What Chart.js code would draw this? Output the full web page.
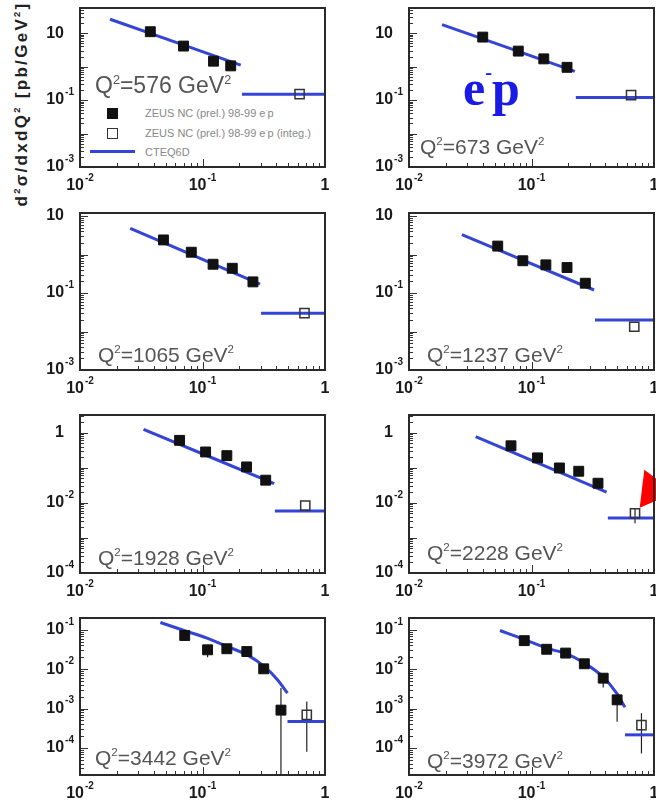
<!DOCTYPE html>
<html lang="en">
<head>
  <meta charset="UTF-8">
  <title>ZEUS NC e-p cross sections at high x</title>
  <script src="https://cdn.jsdelivr.net/npm/chart.js@4.4.1/dist/chart.umd.min.js"></script>
  <style>
    html, body { margin: 0; padding: 0; background: #fff; }
    body {
      position: relative;
      width: 656px;
      height: 807px;
      overflow: hidden;
      font-family: 'Liberation Sans', Arial, sans-serif;
    }
    canvas.panel { position: absolute; }
    .q2 {
      position: absolute;
      color: #555;
      line-height: 1;
      white-space: nowrap;
    }
    .q2 sup, .ytitle sup, .lg-text sup, .ep sup {
      font-size: 0.55em;
      vertical-align: baseline;
      position: relative;
      top: -0.75em;
    }
    .ytitle {
      position: absolute;
      left: 22px;
      top: 104px;
      transform: translate(-50%, -50%) rotate(-90deg);
      font-weight: bold;
      font-size: 17px;
      letter-spacing: 2.3px;
      color: #222;
      white-space: nowrap;
    }
    .ep {
      position: absolute;
      left: 463px;
      top: 63px;
      font-family: 'Liberation Serif', 'Times New Roman', serif;
      font-weight: bold;
      font-size: 50px;
      line-height: 1;
      color: #1a1ae6;
    }
    .ep sup { font-size: 0.4em; top: -1.3em; }
    .lg-mark { position: absolute; box-sizing: border-box; }
    .lg-text {
      position: absolute;
      font-size: 11px;
      line-height: 1;
      color: #888;
      white-space: nowrap;
    }
  </style>
</head>
<body>
  <div class="ytitle">d<sup>2</sup>σ/dxdQ<sup>2</sup> [pb/GeV<sup>2</sup>]</div>
  <div class="ep">e<sup>-</sup>p</div>

  <!-- legend of the first panel -->
  <div class="lg-mark" style="left:107px; top:108px; width:11px; height:11px; background:#111;"></div>
  <div class="lg-text" style="left:145px; top:108px;">ZEUS NC (prel.) 98-99 e<sup>-</sup>p</div>
  <div class="lg-mark" style="left:107px; top:128px; width:11px; height:11px; border:1.5px solid #333;"></div>
  <div class="lg-text" style="left:145px; top:128px;">ZEUS NC (prel.) 98-99 e<sup>-</sup>p (integ.)</div>
  <div class="lg-mark" style="left:90px; top:150px; width:45px; height:3px; background:#3445d6;"></div>
  <div class="lg-text" style="left:145px; top:147px;">CTEQ6D</div>

  <script>
    // Q^2 of each bin, left to right, top to bottom
    const q2Values = [576, 673, 1065, 1237, 1928, 2228, 3442, 3972];

    // measured points (filled squares)
    const dataX = [
      [0.0375, 0.070, 0.123, 0.17],
      [0.040, 0.078, 0.126, 0.195],
      [0.048, 0.081, 0.122, 0.175, 0.258],
      [0.053, 0.085, 0.131, 0.195, 0.275],
      [0.065, 0.106, 0.158, 0.229, 0.328],
      [0.068, 0.112, 0.169, 0.243, 0.349],
      [0.0716, 0.11, 0.158, 0.23, 0.316, 0.437],
      [0.0873, 0.133, 0.19, 0.27, 0.385, 0.5]
    ];
    const dataSigma = [
      [11, 4.1, 1.45, 1.05],
      [7.6, 2.9, 1.7, 0.95],
      [2.4, 1.15, 0.56, 0.44, 0.195],
      [1.66, 0.69, 0.54, 0.46, 0.18],
      [0.6, 0.28, 0.22, 0.105, 0.044],
      [0.42, 0.19, 0.098, 0.079, 0.036],
      [0.0716, 0.031, 0.033, 0.028, 0.0102, 0.00091],
      [0.053, 0.032, 0.0256, 0.0137, 0.0059, 0.00166]
    ];
    // [x, low, high] where an error bar sticks out of the marker
    const dataErrors = [
      [], [], [], [], [], [],
      [[0.11, 0.020, 0.042], [0.437, 1e-6, 0.0033]],
      [[0.385, 0.0034, 0.0071], [0.5, 0.00046, 0.0025]]
    ];

    // integrated bin up to x = 1 (open squares)
    const integX = [0.62, 0.65, 0.68, 0.69, 0.69, 0.70, 0.71, 0.79];
    const integSigma = [0.15, 0.14, 0.03, 0.0133, 0.0083, 0.005, 0.00069, 0.00038];
    const integErrors = [null, null, null, null, null, [0.0026, 0.0071], [0.00008, 0.0015], [0.000072, 0.00076]];

    // CTEQ6D prediction
    const cteqX = [
      [0.0176, 0.205],
      [0.0186, 0.226],
      [0.0257, 0.295],
      [0.027, 0.324],
      [0.033, 0.385],
      [0.035, 0.41],
      [0.0453, 0.0748, 0.109, 0.158, 0.232, 0.318, 0.409, 0.494],
      [0.0553, 0.0857, 0.133, 0.194, 0.265, 0.385, 0.495, 0.58]
    ];
    const cteqSigma = [
      [26, 1.1],
      [18, 0.72],
      [4.8, 0.17],
      [3.3, 0.12],
      [1.24, 0.035],
      [0.76, 0.02],
      [0.153, 0.0906, 0.0616, 0.038, 0.023, 0.0117, 0.0054, 0.00245],
      [0.096, 0.058, 0.034, 0.0245, 0.0148, 0.0063, 0.00245, 0.00107]
    ];
    // CTEQ6D for the integrated bin: flat from x0 to 1
    const cteqIntegFrom = [0.21, 0.23, 0.30, 0.33, 0.39, 0.42, 0.494, 0.58];
    const cteqIntegSigma = [0.15, 0.12, 0.03, 0.02, 0.0058, 0.0037, 0.00047, 0.000214];

    // axes: log10 limits of the y range and labelled decades
    const yLogRange = [[-3, 1.75], [-3, 1.75], [-3, 1.08], [-3, 1.08], [-4, 0.5], [-4, 0.5], [-4.69, -0.7], [-4.69, -0.7]];
    const yLabelExps = [[-3, -1, 1], [-3, -1, 1], [-3, -1, 1], [-3, -1, 1], [-4, -2, 0], [-4, -2, 0], [-4, -3, -2, -1], [-4, -3, -2, -1]];
    const xLabelExps = [-2, -1, 0];

    // red marker pointing at the Q2=2228 integrated point
    const arrowPanel = 5;
    const arrowX = 0.98;
    const arrowY = 0.023;

    const BLUE = '#3445d6';
    const FONT = '"Liberation Sans", Arial, sans-serif';

    // page layout; the right column runs into the page edge
    const colLeft = [0, 329];
    const colWidth = [340, 327];
    const colPadRight = [15, 2];
    const rowTop = [0, 200, 400, 600];
    const rowHeight = [200, 200, 200, 207];
    const rowPadTop = [8, 13, 15, 18];
    const rowPadBottom = [33, 30, 27, 32];
    const q2Pos = [[95, 94, 23], [420, 154, 21], [98, 362, 21], [427, 362, 21],
                   [98, 565, 21], [427, 560, 21], [95, 765, 21], [427, 768, 21]];

    function powLabel(ctx, e, x, y, align) {
      const base = e === 0 ? '1' : '10';
      const exp = (e === 0 || e === 1) ? '' : String(e);
      ctx.font = 'bold 16px ' + FONT;
      const wb = ctx.measureText(base).width;
      ctx.font = 'bold 10px ' + FONT;
      const we = exp ? ctx.measureText(exp).width + 1 : 0;
      let x0;
      if (align === 'right') x0 = x - wb - we - (exp ? 0 : 10);
      else x0 = x - (wb + we) / 2;
      ctx.textAlign = 'left';
      ctx.textBaseline = 'middle';
      ctx.font = 'bold 16px ' + FONT;
      ctx.fillText(base, x0, y);
      if (exp) {
        ctx.font = 'bold 10px ' + FONT;
        ctx.fillText(exp, x0 + wb + 1, y - 8);
      }
    }

    // frame, inward ticks and power-of-ten labels, ROOT style
    const rootFrame = {
      id: 'rootFrame',
      afterDraw(chart, args, opts) {
        const { ctx, chartArea: a, scales: { x, y } } = chart;
        const [lo, hi] = opts.yRange;
        ctx.save();
        ctx.strokeStyle = '#333';
        ctx.lineWidth = 1;
        ctx.beginPath();
        for (let e = Math.floor(lo); e <= Math.ceil(hi); e++) {
          for (let m = 1; m < 10; m++) {
            const v = m * Math.pow(10, e);
            if (Math.log10(v) < lo || Math.log10(v) > hi) continue;
            const py = Math.round(y.getPixelForValue(v)) + 0.5;
            const len = m === 1 ? 8 : 4;
            ctx.moveTo(a.left, py);
            ctx.lineTo(a.left + len, py);
          }
        }
        for (let e = -2; e < 0; e++) {
          for (let m = 1; m < 10; m++) {
            const v = m * Math.pow(10, e);
            const px = Math.round(x.getPixelForValue(v)) + 0.5;
            const len = m === 1 ? 8 : 4;
            ctx.moveTo(px, a.bottom);
            ctx.lineTo(px, a.bottom - len);
          }
        }
        ctx.stroke();

        ctx.lineWidth = 2;
        ctx.strokeStyle = '#2a2a2a';
        ctx.strokeRect(a.left, a.top, a.right - a.left, a.bottom - a.top);

        ctx.fillStyle = '#1a1a1a';
        opts.yLabels.forEach(e => {
          powLabel(ctx, e, a.left - 6, y.getPixelForValue(Math.pow(10, e)), 'right');
        });
        xLabelExps.forEach(e => {
          powLabel(ctx, e, x.getPixelForValue(Math.pow(10, e)), a.bottom + 19, 'center');
        });
        ctx.restore();
      }
    };

    function makePanel(i) {
      const row = Math.floor(i / 2);
      const col = i % 2;
      const canvas = document.createElement('canvas');
      canvas.className = 'panel';
      canvas.width = colWidth[col];
      canvas.height = rowHeight[row];
      canvas.style.left = colLeft[col] + 'px';
      canvas.style.top = rowTop[row] + 'px';
      document.body.appendChild(canvas);

      const datasets = [];
      datasets.push({
        data: dataX[i].map((x, k) => ({ x, y: dataSigma[i][k] })),
        pointStyle: 'rect', pointRadius: 7,
        backgroundColor: '#111', borderColor: '#111', borderWidth: 1,
        order: 0
      });
      datasets.push({
        data: [{ x: integX[i], y: integSigma[i] }],
        pointStyle: 'rect', pointRadius: 6.5,
        backgroundColor: 'rgba(255,255,255,0)', borderColor: '#333', borderWidth: 1.5,
        order: 0
      });
      datasets.push({
        data: cteqX[i].map((x, k) => ({ x, y: cteqSigma[i][k] })),
        showLine: true, tension: 0.4, cubicInterpolationMode: 'monotone',
        borderColor: BLUE, borderWidth: 3, pointRadius: 0,
        order: 1
      });
      datasets.push({
        data: [{ x: cteqIntegFrom[i], y: cteqIntegSigma[i] }, { x: 1, y: cteqIntegSigma[i] }],
        showLine: true, borderColor: BLUE, borderWidth: 3, pointRadius: 0,
        order: 1
      });
      const bars = dataErrors[i].slice();
      if (integErrors[i]) bars.push([integX[i], integErrors[i][0], integErrors[i][1]]);
      bars.forEach(([x, l, h]) => {
        datasets.push({
          data: [{ x, y: l }, { x, y: h }],
          showLine: true, borderColor: '#222', borderWidth: 1.2, pointRadius: 0,
          order: 2
        });
      });
      if (i === arrowPanel) {
        datasets.push({
          data: [{ x: arrowX, y: arrowY }],
          pointStyle: 'triangle', pointRadius: 22, rotation: 217,
          backgroundColor: '#ff0000', borderColor: '#ff0000', borderWidth: 0,
          clip: false, order: -1
        });
      }

      const [lo, hi] = yLogRange[i];
      new Chart(canvas.getContext('2d'), {
        type: 'scatter',
        data: { datasets },
        options: {
          responsive: false,
          animation: false,
          events: [],
          layout: {
            autoPadding: false,
            padding: { left: 80, right: colPadRight[col], top: rowPadTop[row], bottom: rowPadBottom[row] }
          },
          scales: {
            x: { type: 'logarithmic', min: 0.01, max: 1, display: false },
            y: { type: 'logarithmic', min: Math.pow(10, lo), max: Math.pow(10, hi), display: false }
          },
          plugins: {
            legend: { display: false },
            tooltip: { enabled: false },
            rootFrame: { yRange: [lo, hi], yLabels: yLabelExps[i] }
          }
        },
        plugins: [rootFrame]
      });

      const [qx, qb, qs] = q2Pos[i];
      const q = document.createElement('div');
      q.className = 'q2';
      q.style.left = qx + 'px';
      q.style.top = (qb - 0.85 * qs) + 'px';
      q.style.fontSize = qs + 'px';
      q.innerHTML = 'Q<sup>2</sup>=' + q2Values[i] + ' GeV<sup>2</sup>';
      document.body.appendChild(q);
    }

    for (let i = 0; i < q2Values.length; i++) makePanel(i);
  </script>
</body>
</html>
